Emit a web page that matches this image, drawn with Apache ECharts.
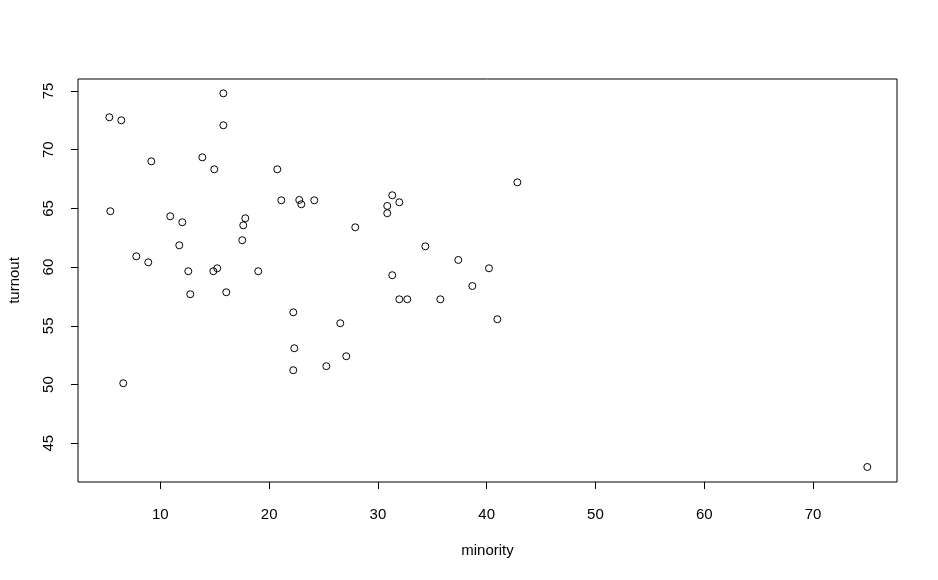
<!DOCTYPE html>
<html><head><meta charset="utf-8">
<script src="https://cdn.jsdelivr.net/npm/echarts@6/dist/echarts.min.js"></script>
<style>html,body{margin:0;padding:0;background:#fff}#c{width:938px;height:580px}</style>
</head><body><div id="c"></div>
<script>
const minority = [15.79,5.31,6.41,15.79,9.17,13.86,14.96,20.75,21.12,22.77,22.96,5.40,10.91,12.02,17.81,17.62,17.53,11.74,7.79,8.89,12.57,14.87,15.23,19.00,12.75,16.06,22.22,22.31,22.22,6.59,24.15,31.32,31.97,30.86,30.86,42.82,27.92,34.36,37.39,40.21,31.32,38.68,31.97,32.70,35.74,40.98,26.54,27.09,25.26,74.99];
const turnout = [74.80,72.76,72.50,72.08,69.01,69.35,68.33,68.33,65.69,65.72,65.35,64.76,64.33,63.82,64.16,63.56,62.29,61.86,60.92,60.41,59.65,59.65,59.90,59.65,57.69,57.86,56.15,53.09,51.22,50.11,65.69,66.12,65.52,65.21,64.59,67.22,63.39,61.77,60.61,59.90,59.31,58.39,57.26,57.26,57.26,55.56,55.22,52.41,51.56,42.98];
const xTicks = [10,20,30,40,50,60,70];
const yTicks = [45,50,55,60,65,70,75];

const chart = echarts.init(document.getElementById('c'), null, {renderer:'canvas'});
const font = 'Liberation Sans, Arial, sans-serif';
chart.setOption({
  animation:false,
  backgroundColor:'#fff',
  grid:{left:78,right:41,top:79,bottom:98,containLabel:false,outerBoundsMode:'none',show:true,borderColor:'#000',borderWidth:1,backgroundColor:'transparent'},
  xAxis:{type:'value',min:2.43,max:77.72,
    name:'minority',nameLocation:'middle',nameGap:61,
    nameTextStyle:{color:'#000',fontSize:15,fontFamily:font},
    axisLine:{show:false},splitLine:{show:false},
    axisTick:{show:true,length:7,inside:false,customValues:xTicks,lineStyle:{color:'#000',width:1}},
    axisLabel:{customValues:xTicks,color:'#000',fontSize:15,fontFamily:font,margin:25}
  },
  yAxis:{type:'value',min:41.70,max:76.02,
    name:'turnout',nameLocation:'middle',nameGap:56,nameRotate:90,
    nameTextStyle:{color:'#000',fontSize:15,fontFamily:font},
    axisLine:{show:false},splitLine:{show:false},
    axisTick:{show:true,length:7,inside:false,customValues:yTicks,lineStyle:{color:'#000',width:1}},
    axisLabel:{customValues:yTicks,color:'#000',fontSize:15,fontFamily:font,margin:22,rotate:90}
  },
  series:[{type:'scatter',symbol:'circle',symbolSize:7,
    itemStyle:{color:'rgba(255,255,255,0)',borderColor:'#000',borderWidth:1,opacity:1},
    emphasis:{disabled:true},
    data:minority.map((v,i)=>[v,turnout[i]])}]
});
</script></body></html>
